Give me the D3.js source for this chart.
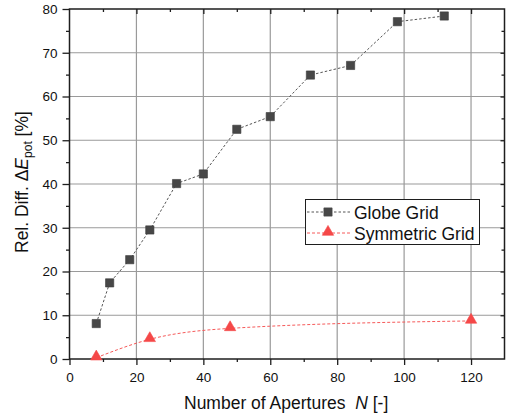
<!DOCTYPE html>
<html>
<head>
<meta charset="utf-8">
<script src="https://cdn.jsdelivr.net/npm/d3@7"></script>
<style>
  html, body { margin: 0; padding: 0; background: #fff; }
  svg { display: block; font-family: "Liberation Sans", Arial, sans-serif; }
</style>
</head>
<body>
<svg id="chart" width="519" height="416"></svg>
<script>
// Number of apertures and relative difference of potential energy [%]
const globeN = [8, 12, 18, 24, 32, 40, 50, 60, 72, 84, 98, 112];
const globeDiff = [8.1, 17.4, 22.7, 29.5, 40.1, 42.3, 52.5, 55.4, 64.9, 67.1, 77.1, 78.4];
const symN = [8, 24, 48, 120];
const symDiff = [0.3, 4.5, 7.0, 8.7];

const xMajor = [0, 20, 40, 60, 80, 100, 120];
const xMinor = [10, 30, 50, 70, 90, 110];
const yMajor = [0, 10, 20, 30, 40, 50, 60, 70, 80];
const yMinor = [5, 15, 25, 35, 45, 55, 65, 75];

const seriesNames = ["Globe Grid", "Symmetric Grid"];

const svg = d3.select("#chart");
const L = 69.5, R = 504.5, T = 9, B = 359;

const x = d3.scaleLinear().domain([0, 130]).range([L, R]);
const y = d3.scaleLinear().domain([0, 80]).range([B, T]);

const axisColor = "#1e1e1e";
const gridColor = "#9a9a9a";

// grid
const grid = svg.append("g");
grid.selectAll("line.v").data(xMajor.filter(d => d > 0)).join("line")
  .attr("x1", d => x(d)).attr("x2", d => x(d)).attr("y1", T).attr("y2", B)
  .attr("stroke", gridColor).attr("stroke-width", 1.2);
grid.selectAll("line.h").data(yMajor.filter(d => d > 0 && d < 80)).join("line")
  .attr("x1", L).attr("x2", R).attr("y1", d => y(d)).attr("y2", d => y(d))
  .attr("stroke", gridColor).attr("stroke-width", 1.2);

function styleAxis(g) {
  g.select(".domain").remove();
  g.selectAll(".tick line").attr("stroke", axisColor).attr("stroke-width", 1.3);
  g.selectAll(".tick text").attr("fill", "#111").attr("font-size", 13.5)
    .attr("font-family", "'Liberation Sans', Arial, sans-serif");
}

// bottom axis
svg.append("g").attr("transform", `translate(0,${B})`)
  .call(d3.axisBottom(x).tickValues(xMajor).tickSize(6).tickPadding(7).tickFormat(d3.format("d")))
  .call(styleAxis);
svg.append("g").attr("transform", `translate(0,${B})`)
  .call(d3.axisBottom(x).tickValues(xMinor).tickSize(3).tickFormat(""))
  .call(styleAxis);

// left axis
svg.append("g").attr("transform", `translate(${L},0)`)
  .call(d3.axisLeft(y).tickValues(yMajor).tickSize(7).tickPadding(5).tickFormat(d3.format("d")))
  .call(styleAxis);
svg.append("g").attr("transform", `translate(${L},0)`)
  .call(d3.axisLeft(y).tickValues(yMinor).tickSize(3.5).tickFormat(""))
  .call(styleAxis);

// top axis (inward ticks)
svg.append("g").attr("transform", `translate(0,${T})`)
  .call(d3.axisBottom(x).tickValues(xMajor.filter(d => d > 0)).tickSize(5).tickFormat(""))
  .call(styleAxis);
svg.append("g").attr("transform", `translate(0,${T})`)
  .call(d3.axisBottom(x).tickValues(xMinor).tickSize(3).tickFormat(""))
  .call(styleAxis);

// right axis (inward ticks)
svg.append("g").attr("transform", `translate(${R},0)`)
  .call(d3.axisLeft(y).tickValues(yMajor.filter(d => d > 0 && d < 80)).tickSize(4).tickFormat(""))
  .call(styleAxis);
svg.append("g").attr("transform", `translate(${R},0)`)
  .call(d3.axisLeft(y).tickValues(yMinor).tickSize(3).tickFormat(""))
  .call(styleAxis);

// frame
svg.append("rect").attr("x", L).attr("y", T).attr("width", R - L).attr("height", B - T)
  .attr("fill", "none").attr("stroke", axisColor).attr("stroke-width", 1.5);

// series
const globeColor = "#474747";
const symColor = "#f54848";
const globeData = globeN.map((n, i) => [n, globeDiff[i]]);
const symData = symN.map((n, i) => [n, symDiff[i]]);

const lineLinear = d3.line().x(d => x(d[0])).y(d => y(d[1]));
const lineSmooth = d3.line().x(d => x(d[0])).y(d => y(d[1])).curve(d3.curveMonotoneX);

svg.append("path").datum(globeData).attr("d", lineLinear)
  .attr("fill", "none").attr("stroke", "#555").attr("stroke-width", 1)
  .attr("stroke-dasharray", "2.5,2");
svg.append("path").datum(symData).attr("d", lineSmooth)
  .attr("fill", "none").attr("stroke", "#f65a5a").attr("stroke-width", 1)
  .attr("stroke-dasharray", "3,2");

const square = d3.symbol().type(d3.symbolSquare).size(68);
const triangle = d3.symbol().type(d3.symbolTriangle).size(56);

svg.append("g").selectAll("path").data(globeData).join("path")
  .attr("d", square)
  .attr("transform", d => `translate(${x(d[0])},${y(d[1])})`)
  .attr("fill", globeColor).attr("stroke", "#3a3a3a").attr("stroke-width", 0.6);

svg.append("g").selectAll("path").data(symData).join("path")
  .attr("d", triangle)
  .attr("transform", d => `translate(${x(d[0])},${y(d[1]) - 1})`)
  .attr("fill", symColor).attr("stroke", symColor).attr("stroke-width", 0.6);

// legend
const leg = svg.append("g");
leg.append("rect").attr("x", 305.5).attr("y", 199.5).attr("width", 174).attr("height", 45)
  .attr("fill", "#fff").attr("stroke", axisColor).attr("stroke-width", 1);
const legRows = [
  { name: seriesNames[0], cy: 212, color: "#555", dash: "2.5,2", shape: square, fill: globeColor },
  { name: seriesNames[1], cy: 233, color: "#f65a5a", dash: "3,2", shape: triangle, fill: symColor }
];
legRows.forEach(r => {
  leg.append("line").attr("x1", 307).attr("x2", 350).attr("y1", r.cy).attr("y2", r.cy)
    .attr("stroke", r.color).attr("stroke-width", 1).attr("stroke-dasharray", r.dash);
  leg.append("path").attr("d", r.shape)
    .attr("transform", `translate(328,${r.shape === triangle ? r.cy - 1 : r.cy})`)
    .attr("fill", r.fill).attr("stroke", r.fill).attr("stroke-width", 0.6);
  leg.append("text").attr("x", 354).attr("y", r.cy + 6.5)
    .attr("font-size", 17.5).attr("fill", "#111").text(r.name);
});

// axis titles
const xt = svg.append("text").attr("x", 184).attr("y", 409)
  .attr("font-size", 17.5).attr("fill", "#111");
xt.append("tspan").text("Number of Apertures\u00a0\u00a0");
xt.append("tspan").attr("font-style", "italic").text("N");
xt.append("tspan").text(" [-]");

const yt = svg.append("text").attr("transform", "translate(28,253) rotate(-90)")
  .attr("font-size", 17.5).attr("fill", "#111");
yt.append("tspan").text("Rel. Diff. \u0394");
yt.append("tspan").attr("font-style", "italic").text("E");
yt.append("tspan").attr("font-size", 12).attr("dy", 4).text("pot");
yt.append("tspan").attr("dy", -4).text(" [%]");
</script>
</body>
</html>
